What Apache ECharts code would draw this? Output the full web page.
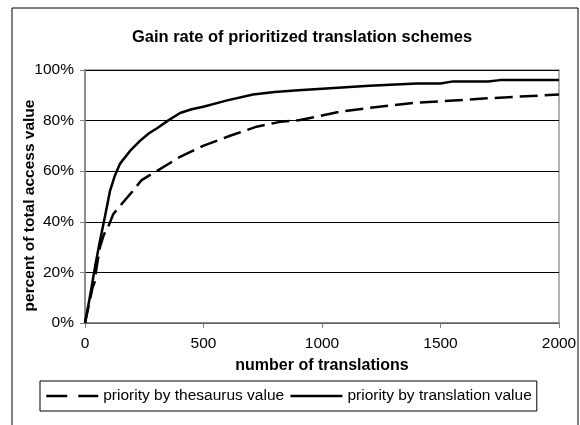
<!DOCTYPE html>
<html>
<head>
<meta charset="utf-8">
<script src="https://cdn.jsdelivr.net/npm/echarts@6/dist/echarts.min.js"></script>
<style>html,body{margin:0;padding:0;background:#fff}#c{width:580px;height:425px}</style>
</head>
<body>
<div id="c"></div>
<script>
const titleText = 'Gain rate of prioritized translation schemes';
const xName = 'number of translations';
const yName = 'percent of total access value';
const seriesNames = ['priority by thesaurus value', 'priority by translation value'];

const thesaurusX = [0, 32, 40, 49, 63, 80, 98, 119, 169, 200, 239, 302, 401, 498, 612, 724, 823, 907, 1076, 1200, 1384, 1500, 1696, 2000];
const thesaurusY = [0, 14, 16, 22, 30, 35, 38, 43, 48.6, 52, 56.5, 60, 65.7, 70, 74, 77.6, 79.5, 80.2, 83.5, 85, 87, 87.6, 88.8, 90.3];

const translationX = [0, 20, 42, 60, 84, 105, 125, 148, 190, 232, 270, 304, 350, 401, 450, 499, 600, 709, 800, 900, 1034, 1200, 1400, 1500, 1553, 1700, 1751, 2000];
const translationY = [0, 10, 22, 31, 42, 52, 58, 63, 68, 72, 75, 77, 80, 83, 84.5, 85.5, 88, 90.3, 91.3, 92, 92.8, 93.8, 94.7, 94.7, 95.5, 95.5, 96, 96];

const pair = (xs, ys) => xs.map((x, i) => [x, ys[i]]);
const font = 'Liberation Sans, Arial, sans-serif';

const chart = echarts.init(document.getElementById('c'), null, {renderer: 'canvas'});
chart.setOption({
  animation: false,
  backgroundColor: '#fff',
  title: {
    text: titleText, left: 297, top: 24, textAlign: 'center',
    textStyle: {fontFamily: font, fontSize: 16.5, fontWeight: 'bold', color: '#000'}
  },
  graphic: [{
    type: 'rect', shape: {x: 12, y: 8, width: 566, height: 440},
    style: {fill: 'none', stroke: '#000', lineWidth: 1}, silent: true
  }],
  grid: {left: 85, right: 21, top: 70, bottom: 102, show: true, borderColor: '#999', borderWidth: 1.5, backgroundColor: 'transparent'},
  legend: {
    left: 40, top: 381, orient: 'horizontal',
    padding: [7, 5, 7, 5], itemGap: 5, itemWidth: 52, itemHeight: 14,
    borderColor: '#000', borderWidth: 1,
    itemStyle: {opacity: 0},
    textStyle: {fontFamily: font, fontSize: 15.5, color: '#000'},
    data: [
      {name: seriesNames[0], itemStyle: {opacity: 0}, lineStyle: {type: [21, 11], width: 2.5}},
      {name: seriesNames[1], itemStyle: {opacity: 0}, lineStyle: {type: 'solid', width: 2.5}}
    ]
  },
  xAxis: {
    type: 'value', min: 0, max: 2000, interval: 500,
    name: xName, nameLocation: 'middle', nameGap: 35,
    nameTextStyle: {fontFamily: font, fontSize: 16, fontWeight: 'bold', color: '#000'},
    axisLine: {show: true, lineStyle: {color: '#808080', width: 1.5}},
    axisTick: {show: true, length: 5, lineStyle: {color: '#808080'}},
    axisLabel: {fontFamily: font, fontSize: 15.5, color: '#000', margin: 13, formatter: v => String(v)},
    splitLine: {show: false}
  },
  yAxis: {
    type: 'value', min: 0, max: 100, interval: 20,
    name: yName, nameLocation: 'middle', nameGap: 47, nameRotate: 90, nameMoveOverlap: false,
    nameTextStyle: {fontFamily: font, fontSize: 15.5, fontWeight: 'bold', color: '#000', padding: [0, 18, 0, 0]},
    axisLine: {show: true, lineStyle: {color: '#808080', width: 1.5}},
    axisTick: {show: true, length: 5, lineStyle: {color: '#808080'}},
    axisLabel: {fontFamily: font, fontSize: 15.5, color: '#000', margin: 11, formatter: '{value}%'},
    splitLine: {show: true, lineStyle: {color: '#000', width: 1}}
  },
  series: [
    {
      name: seriesNames[0], type: 'line', symbol: 'none', smooth: false,
      data: pair(thesaurusX, thesaurusY),
      lineStyle: {color: '#000', width: 2.5, type: [18, 7]},
      itemStyle: {color: '#000'}
    },
    {
      name: seriesNames[1], type: 'line', symbol: 'none', smooth: false,
      data: pair(translationX, translationY),
      lineStyle: {color: '#000', width: 2.5, type: 'solid'},
      itemStyle: {color: '#000'}
    }
  ]
});
</script>
</body>
</html>
